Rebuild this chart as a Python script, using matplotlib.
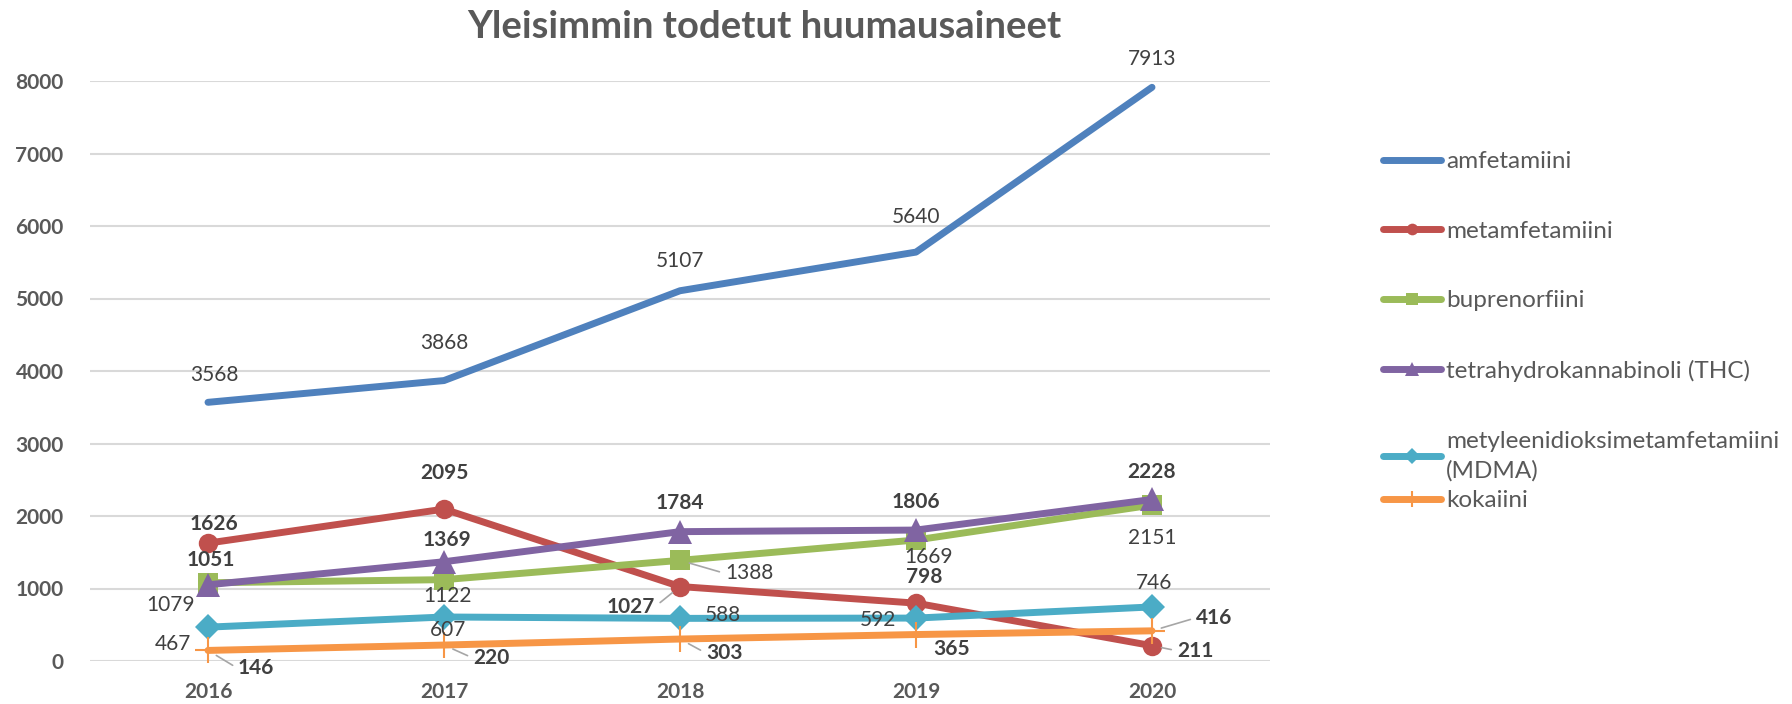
import matplotlib.pyplot as plt
import numpy as np

years = ["2016", "2017", "2018", "2019", "2020"]
amfetamiini = [3568, 3868, 5107, 5640, 7913]
metamfetamiini = [1626, 2095, 1027, 798, 211]
buprenorfiini = [1079, 1122, 1388, 1669, 2151]
thc = [1051, 1369, 1784, 1806, 2228]
mdma = [467, 607, 588, 592, 746]
kokaiini = [146, 220, 303, 365, 416]

names = ["amfetamiini", "metamfetamiini", "buprenorfiini",
         "tetrahydrokannabinoli (THC)",
         "metyleenidioksimetamfetamiini\n(MDMA)", "kokaiini"]
series = [amfetamiini, metamfetamiini, buprenorfiini, thc, mdma, kokaiini]

colors = ["#4F81BD", "#C0504D", "#9BBB59", "#8064A2", "#4BACC6", "#F79646"]
markers = [None, "o", "s", "^", "D", "+"]
msizes = [0, 14, 14, 17, 13, 19]
weights = ["normal", "bold", "normal", "bold", "normal", "bold"]

# label offsets in pixels (dx, dy up) for each point
offsets = [
    [(6, 27), (0, 38), (0, 30), (0, 35), (0, 28)],
    [(6, 19), (0, 36), (-49, -20), (8, 26), (43, -5)],
    [(-37, -22), (4, -16), (69, -13), (13, -17), (0, -33)],
    [(3, 25), (3, 22), (0, 29), (0, 28), (0, 27)],
    [(-35, -17), (4, -13), (43, 3), (-38, -2), (2, 24)],
    [(48, -18), (47, -13), (44, -14), (36, -14), (62, 13)],
]
# points that get a leader line
leaders = {(1, 2), (1, 4), (2, 2), (5, 0), (5, 1), (5, 2), (5, 4)}

plt.rcParams['font.family'] = ['Lato', 'DejaVu Sans']

fig = plt.figure(figsize=(17.92, 7.04), dpi=100)
ax = fig.add_axes([90 / 1792, 43 / 704, 1180 / 1792, 580 / 704])

x = np.arange(len(years))
handles = []
for i, vals in enumerate(series):
    h, = ax.plot(x, vals, color=colors[i], lw=5, marker=markers[i],
                 markersize=msizes[i], markeredgewidth=1.5 if markers[i] == "+" else 0,
                 markeredgecolor=colors[i], label=names[i], zorder=3, clip_on=False,
                 solid_capstyle="round")
    handles.append(h)
    for j, v in enumerate(vals):
        dx, dy = offsets[i][j]
        ap = None
        if (i, j) in leaders:
            rx = 0 if dx > 0 else 1
            ap = dict(arrowstyle="-", color="#a6a6a6", lw=1.2, shrinkA=2, shrinkB=7,
                      relpos=(rx, 0.5))
        ax.annotate(str(v), (x[j], v), xytext=(dx, dy), textcoords="offset pixels",
                    ha="center", va="center", fontsize=15, fontweight=weights[i],
                    color="#404040", arrowprops=ap, zorder=5, annotation_clip=False)

ax.set_xlim(-0.5, 4.5)
ax.set_ylim(0, 8000)
ax.set_yticks(np.arange(0, 8001, 1000))
ax.set_xticks(x)
ax.set_xticklabels(years)
for s in ax.spines.values():
    s.set_visible(False)
ax.grid(axis="y", color="#d9d9d9", lw=1.5)
ax.set_axisbelow(True)
ax.tick_params(length=0, labelsize=15, labelcolor="#595959")
ax.tick_params(axis="y", pad=19)
ax.tick_params(axis="x", pad=15)
for t in ax.get_xticklabels() + ax.get_yticklabels():
    t.set_fontweight("bold")

fig.text(764 / 1792, 1 - 27 / 704, "Yleisimmin todetut huumausaineet", ha="center",
         va="center", fontsize=27.5, fontweight="bold", color="#595959")

leg_kw = dict(loc="upper left", frameon=False, fontsize=17.5, labelcolor="#595959",
              handlelength=2.4, handletextpad=0.2, labelspacing=2.0, borderpad=0,
              borderaxespad=0, markerscale=0.6)
leg1 = fig.legend(handles=handles[:5], bbox_to_anchor=(1383 / 1792, 1 - 151 / 704), **leg_kw)
for t in leg1.get_texts():
    t.set_linespacing(1.5)
fig.legend(handles=handles[5:], bbox_to_anchor=(1383 / 1792, 1 - 490 / 704), **leg_kw)

plt.savefig("out.png", dpi=100)
